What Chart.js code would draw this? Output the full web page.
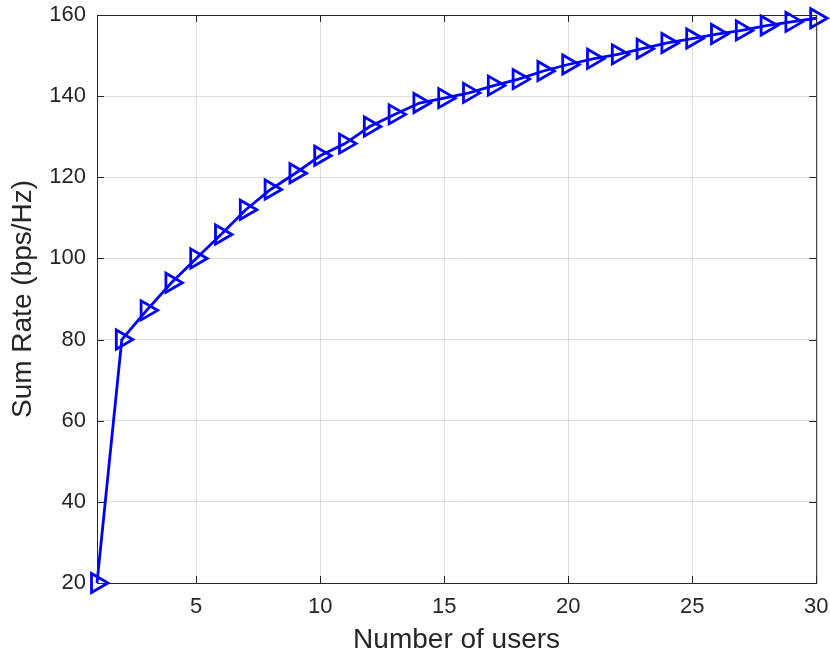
<!DOCTYPE html>
<html>
<head>
<meta charset="utf-8">
<script src="https://cdn.jsdelivr.net/npm/chart.js@4/dist/chart.umd.min.js"></script>
<style>
  html, body { margin: 0; padding: 0; background: #fff; }
  #wrap { width: 830px; height: 662px; }
</style>
</head>
<body>
<div id="wrap"><canvas id="rateChart" width="830" height="662"></canvas></div>
<script>
// data
const users = [1, 2, 3, 4, 5, 6, 7, 8, 9, 10, 11, 12, 13, 14, 15,
               16, 17, 18, 19, 20, 21, 22, 23, 24, 25, 26, 27, 28, 29, 30];
const sumRate = [20, 80, 87.2, 94, 100, 105.9, 112, 117, 121, 125.3, 128.3, 132.5, 135.5, 138.3, 139.5,
                 140.8, 142.6, 144.2, 146.2, 147.8, 149.2, 150.3, 151.7, 153.1, 154.2, 155.3, 156.2, 157.4, 158.3, 159.2];
const xTicks = [5, 10, 15, 20, 25, 30];
const yTicks = [20, 40, 60, 80, 100, 120, 140, 160];

const axisColor = '#262626';
const gridColor = 'rgba(0,0,0,0.13)';
const fontFamily = '"Liberation Sans", Arial, sans-serif';

// MATLAB style box with inward ticks on all four sides
const boxPlugin = {
    id: 'matlabBox',
    afterDatasetsDraw(chart) {
        const { ctx, chartArea: a, scales } = chart;
        const tl = 7;
        ctx.save();
        ctx.strokeStyle = axisColor;
        ctx.lineWidth = 1;
        ctx.strokeRect(a.left + 0.5, a.top + 0.5, a.right - a.left, a.bottom - a.top);
        ctx.beginPath();
        xTicks.forEach(v => {
            const px = Math.round(scales.x.getPixelForValue(v)) + 0.5;
            ctx.moveTo(px, a.bottom); ctx.lineTo(px, a.bottom - tl);
            ctx.moveTo(px, a.top); ctx.lineTo(px, a.top + tl);
        });
        yTicks.forEach(v => {
            const py = Math.round(scales.y.getPixelForValue(v)) + 0.5;
            ctx.moveTo(a.left, py); ctx.lineTo(a.left + tl, py);
            ctx.moveTo(a.right, py); ctx.lineTo(a.right - tl, py);
        });
        ctx.stroke();
        ctx.restore();
    }
};

const ctx = document.getElementById('rateChart').getContext('2d');
new Chart(ctx, {
    type: 'line',
    data: {
        datasets: [{
            data: users.map((u, i) => ({ x: u, y: sumRate[i] })),
            borderColor: '#0000ff',
            borderWidth: 2.8,
            pointStyle: 'triangle',
            rotation: 90,
            pointRadius: 11,
            pointBorderWidth: 2.8,
            pointBorderColor: '#0000ff',
            pointBackgroundColor: 'rgba(0,0,0,0)',
            tension: 0,
            clip: false
        }]
    },
    options: {
        responsive: false,
        animation: false,
        layout: { padding: { top: 15, right: 13, left: 0, bottom: 0 } },
        plugins: {
            legend: { display: false },
            tooltip: { enabled: false }
        },
        scales: {
            x: {
                type: 'linear',
                min: 1,
                max: 30,
                afterBuildTicks: s => { s.ticks = xTicks.map(v => ({ value: v })); },
                afterFit: s => { s.height = 79; s.paddingLeft = 0; s.paddingRight = 0; },
                grid: { color: gridColor, drawTicks: false },
                border: { display: false },
                ticks: { color: axisColor, font: { family: fontFamily, size: 22 }, padding: 11, maxRotation: 0 },
                title: {
                    display: true,
                    text: 'Number of users',
                    color: axisColor,
                    font: { family: fontFamily, size: 28 },
                    padding: { top: 0, bottom: 5 }
                }
            },
            y: {
                min: 20,
                max: 160,
                afterBuildTicks: s => { s.ticks = yTicks.map(v => ({ value: v })); },
                afterFit: s => { s.width = 97; s.paddingTop = 0; s.paddingBottom = 0; },
                grid: { color: gridColor, drawTicks: false },
                border: { display: false },
                ticks: { color: axisColor, font: { family: fontFamily, size: 22 }, padding: 11 },
                title: {
                    display: true,
                    text: 'Sum Rate (bps/Hz)',
                    color: axisColor,
                    font: { family: fontFamily, size: 28 },
                    padding: { top: 6, bottom: 0 }
                }
            }
        }
    },
    plugins: [boxPlugin]
});
</script>
</body>
</html>
